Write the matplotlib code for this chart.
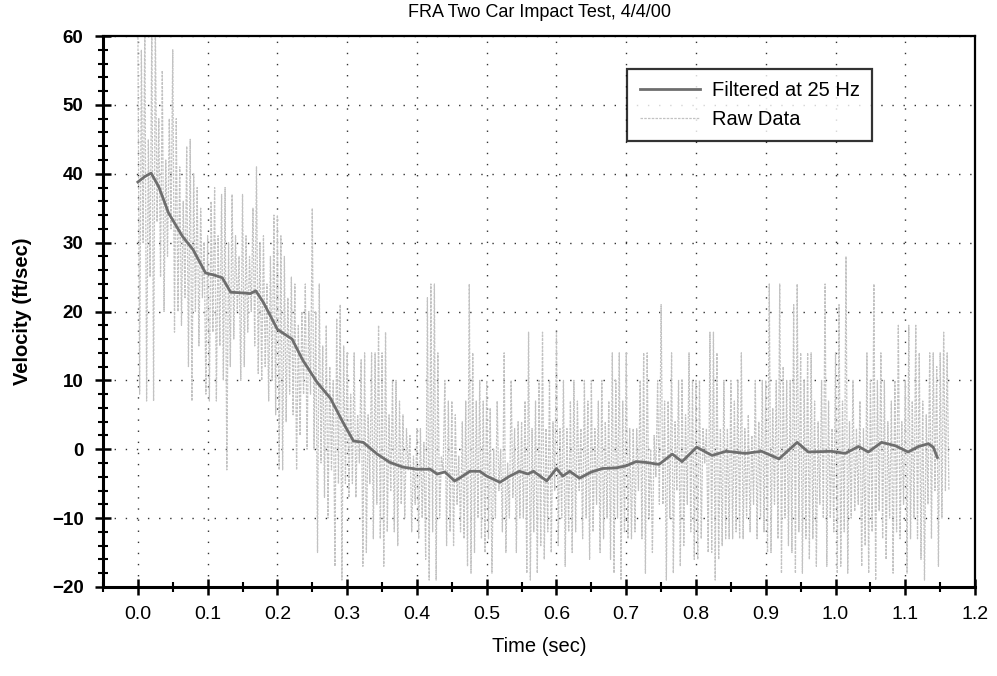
import numpy as np
import matplotlib
matplotlib.use("Agg")
import matplotlib.pyplot as plt
from matplotlib.ticker import MultipleLocator

plt.rcParams["font.family"] = ["Liberation Sans", "DejaVu Sans"]

title = "FRA Two Car Impact Test, 4/4/00"

# raw accelerometer-derived velocity, one up/down stroke every 5 ms
sample_dt = 0.005
raw_high = [
    62, 58, 62, 45, 62, 62, 48, 55, 42, 48,
    58, 48, 41, 36, 44, 45, 40, 38, 35, 30,
    31, 36, 38, 31, 37, 38, 30, 37, 31, 28,
    37, 31, 28, 35, 41, 30, 31, 24, 28, 34,
    34, 31, 28, 22, 25, 24, 18, 20, 24, 20,
    35, 20, 24, 15, 18, 12, 10, 19, 21, 15,
    14, 8, 14, 5, 13, 14, 5, 14, 14, 18,
    14, 17, 5, 10, 10, 7, 5, 3, 2, -1,
    3, 3, 1, 22, 24, 24, 14, -1, 10, 7,
    7, 5, -1, 4, 7, 24, 14, 7, 10, 7,
    10, 6, 0, 7, 0, 14, -2, 10, 3, 4,
    4, 7, 17, 3, 7, 10, 17, 3, 10, 4,
    17, 3, 10, 3, 7, 10, 7, 3, 10, 7,
    10, 3, 7, 10, 4, 7, 14, 10, 14, 7,
    14, 3, 3, 3, 10, 14, 14, 0, 2, 10,
    21, 7, 7, 14, 4, 10, 10, 5, 14, 10,
    10, 10, 3, 3, 17, 17, 14, 3, 10, 3,
    10, 7, 10, 14, 3, 5, 2, 10, 4, 10,
    10, 24, 6, 10, 24, 12, 10, 10, 21, 24,
    14, 10, 14, 14, 7, 4, 10, 24, 7, 3,
    14, 21, 7, 28, 4, 10, 3, 7, 3, 14,
    10, 24, 10, 14, 10, 4, 7, 10, 18, 4,
    10, 18, 7, 18, 14, 7, 5, 14, 14, 12, 14, 17, 14,
]
raw_low = [
    8, 30, 7, 25, 7, 33, 25, 20, 28, 32,
    17, 20, 18, 22, 12, 7, 20, 15, 22, 8,
    7, 17, 7, 15, 10, -3, 12, 16, 20, 10,
    12, 17, 20, 15, 11, 10, 12, 7, 10, 5,
    -3, -3, 4, 8, 5, -3, 2, 8, 0, 8,
    0, -15, -2, -7, -10, -3, -17, -5, -19, -5,
    -7, -5, -7, -2, -17, -15, -5, -13, -8, -13,
    -17, -12, -6, -12, -14, -8, -10, -3, -12, -8,
    -13, -10, -16, -19, -12, -19, -10, -3, -14, -12,
    -14, -8, -12, -13, -17, -18, -15, -10, -13, -15,
    -13, -18, -10, -6, -12, -15, -10, -7, -15, -10,
    -10, -18, -19, -12, -18, -14, -16, -12, -15, -6,
    -14, -10, -17, -12, -15, -12, -6, -13, -10, -16,
    -12, -8, -15, -13, -10, -16, -18, -10, -19, -12,
    -13, -13, -12, -6, -13, -18, -10, -15, -4, -8,
    -8, -19, -10, -18, -6, -17, -14, -8, -12, -16,
    -16, -13, -2, -15, -15, -19, -16, -14, -13, -13,
    -13, -12, -13, -13, -10, -12, -8, -13, -10, -12,
    -15, -15, -8, -13, -18, -10, -14, -15, -18, -12,
    -18, -13, -16, -13, -17, -8, -10, -17, -10, -12,
    -18, -17, -12, -18, -10, -9, -8, -17, -14, -18,
    -12, -19, -9, -13, -16, -10, -18, -12, -13, -8,
    -18, -13, -10, -13, -16, -19, -8, -13, -6, -17, -10, -6, -6,
]

# 25 Hz low-pass filtered trace
filt_time = [0.000, 0.010, 0.019, 0.030, 0.044, 0.064, 0.079, 0.097, 0.109,
             0.121, 0.133, 0.150, 0.161, 0.169, 0.180, 0.200, 0.221, 0.236,
             0.257, 0.276, 0.294, 0.309, 0.323, 0.343, 0.361, 0.380, 0.400,
             0.419, 0.429, 0.440, 0.454, 0.461, 0.476, 0.490, 0.500, 0.519,
             0.533, 0.547, 0.559, 0.567, 0.586, 0.600, 0.609, 0.619, 0.633,
             0.650, 0.666, 0.686, 0.700, 0.714, 0.727, 0.747, 0.766, 0.780,
             0.801, 0.823, 0.843, 0.871, 0.894, 0.919, 0.945, 0.961, 0.994,
             1.014, 1.033, 1.047, 1.066, 1.086, 1.104, 1.119, 1.133, 1.140,
             1.146]
filt_vel = [38.8, 39.6, 40.1, 38.1, 34.3, 30.9, 29.0, 25.6, 25.3,
            24.9, 22.8, 22.7, 22.6, 23.0, 21.3, 17.4, 16.0, 13.0,
            9.7, 7.4, 3.9, 1.2, 1.0, -0.7, -1.9, -2.6, -2.9,
            -2.9, -3.6, -3.3, -4.6, -4.2, -3.2, -3.2, -3.9, -4.8,
            -3.9, -3.2, -3.6, -3.2, -4.6, -2.8, -3.9, -3.2, -4.2,
            -3.3, -2.8, -2.7, -2.4, -1.8, -1.9, -2.2, -0.7, -1.8,
            0.3, -0.9, -0.3, -0.6, -0.3, -1.4, 1.0, -0.4, -0.3,
            -0.6, 0.4, -0.4, 1.0, 0.5, -0.4, 0.4, 0.8, 0.3,
            -1.2]

raw_start = np.arange(len(raw_high)) * sample_dt
raw_t = np.column_stack([raw_start, raw_start + sample_dt / 2]).ravel()
raw_v = np.column_stack([raw_high, raw_low]).ravel()

fig = plt.figure(figsize=(9.97, 6.76), dpi=100)
ax = fig.add_axes([0.1033, 0.1317, 0.8747, 0.815])

ax.plot(raw_t, raw_v, color="#c2c2c2", lw=0.9, ls=(0, (2, 1)),
        label="Raw Data", zorder=2)
ax.plot(filt_time, filt_vel, color="#6e6e6e", lw=2.0,
        solid_joinstyle="round", label="Filtered at 25 Hz", zorder=3)

ax.set_xlim(-0.05, 1.2)
ax.set_ylim(-20, 60)
ax.xaxis.set_minor_locator(MultipleLocator(0.05))
ax.yaxis.set_major_locator(MultipleLocator(10))
ax.yaxis.set_minor_locator(MultipleLocator(2))
ax.set_xticks(np.arange(0, 1.21, 0.1))
ax.set_xticklabels([f"{v:.1f}" for v in np.arange(0, 1.21, 0.1)])

ax.grid(True, which="major", color="#333333", lw=1.0, ls=(0, (1, 7)))
ax.tick_params(axis="both", which="major", direction="inout", length=12,
               width=1.8, pad=8)
ax.tick_params(axis="x", labelsize=14)
ax.tick_params(axis="y", labelsize=13.5)
ax.tick_params(axis="both", which="minor", direction="inout", length=7,
               width=1.5)
for lab in ax.get_yticklabels():
    lab.set_fontweight("bold")
for side in ["left", "bottom"]:
    ax.spines[side].set_linewidth(2.2)
for side in ["top", "right"]:
    ax.spines[side].set_linewidth(1.6)

ax.set_title(title, fontsize=13, pad=14)
ax.set_xlabel("Time (sec)", fontsize=14.5, labelpad=10)
ax.set_ylabel("Velocity (ft/sec)", fontsize=14.5, fontweight="bold",
              labelpad=14)

handles, labels = ax.get_legend_handles_labels()
leg = ax.legend(handles[::-1], labels[::-1], loc="upper right",
                bbox_to_anchor=(0.882, 0.94), borderaxespad=0,
                fontsize=14.5, frameon=True, fancybox=False,
                edgecolor="black", handlelength=3.0, handletextpad=0.6,
                borderpad=0.6, labelspacing=0.5)
leg.get_frame().set_linewidth(1.6)

fig.savefig("out.png", dpi=100, facecolor="white")
